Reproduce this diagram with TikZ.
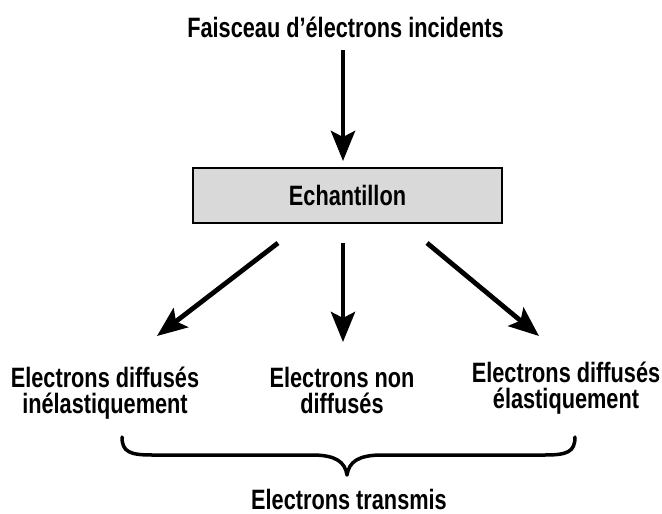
\documentclass[tikz,border=0pt]{standalone}
\usepackage{fontspec}
\setmainfont[FakeStretch=0.776]{Liberation Sans}
\usetikzlibrary{arrows.meta}
\definecolor{boxgray}{HTML}{D9D9D9}
\tikzset{
  lbl/.style={font=\fontsize{28}{26}\selectfont\bfseries, inner sep=0pt, align=center, anchor=base},
  arr/.style={line width=4.8pt, -{Stealth[length=30pt,width=24pt,inset=6pt]}},
  boxstyle/.style={draw=black, line width=2pt, fill=boxgray, minimum width=309pt, minimum height=55pt, inner sep=0pt, font=\fontsize{28}{26}\selectfont\bfseries},
  bracestyle/.style={line width=3.5pt, line cap=round, line join=round}
}
\begin{document}
\begin{tikzpicture}[x=1pt,y=-1pt]
\useasboundingbox (0,0) rectangle (662,514);
\node[lbl] (title) at (345.5,37) {Faisceau d’électrons incidents};
\node[boxstyle] (ech) at (347.5,195.5) {Echantillon};
\node[lbl] (inel) at (105,413.5) {Electrons diffusés\\inélastiquement};
\node[lbl] (non) at (342,413.5) {Electrons non\\diffusés};
\node[lbl] (el) at (566,408) {Electrons diffusés\\élastiquement};
\node[lbl] (trans) at (349,509.5) {Electrons transmis};
% arrows
\coordinate (t0) at (343,50);
\coordinate (t1) at (343,161);
\coordinate (a0) at (278,243);
\coordinate (a1) at (157,336);
\coordinate (b0) at (343,243);
\coordinate (b1) at (343,342);
\coordinate (c0) at (427,243);
\coordinate (c1) at (539,336);
\draw[arr] (t0) -- (t1);
\draw[arr] (a0) -- (a1);
\draw[arr] (b0) -- (b1);
\draw[arr] (c0) -- (c1);
% brace
\coordinate (bl) at (122,437);
\coordinate (br) at (575,437);
\coordinate (tip) at (347,475);
\draw[bracestyle] (bl) .. controls (122,452) and (130,455) .. (152,455)
  -- (312,455) .. controls (336,455) and (345,462) .. (tip)
  .. controls (349,462) and (358,455) .. (382,455)
  -- (545,455) .. controls (567,455) and (575,452) .. (br);
\end{tikzpicture}
\end{document}
